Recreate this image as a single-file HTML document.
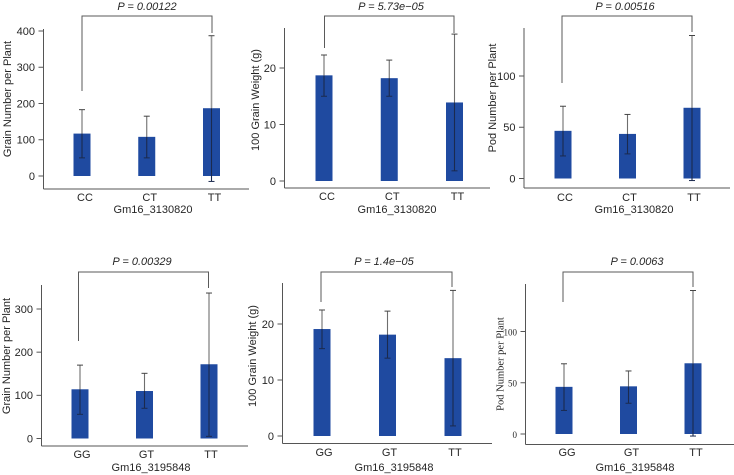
<!DOCTYPE html>
<html>
<head>
<meta charset="utf-8">
<title>Yield traits by genotype</title>
<style>
html,body{margin:0;padding:0;background:#fff;}
svg{display:block;font-family:"Liberation Sans",sans-serif;}
text{fill:#262626;font-size:11px;}
</style>
</head>
<body>
<svg id="figure" width="734" height="475" viewBox="0 0 734 475" xmlns="http://www.w3.org/2000/svg"></svg>
<script>
// Panel 1
const p1Categories = ['CC', 'CT', 'TT'];
const p1Means = [117, 108, 187];
const p1Upper = [183, 165, 387];
const p1Lower = [50, 50, -15];
const p1Ticks = [0, 100, 200, 300, 400];
// Panel 2
const p2Categories = ['CC', 'CT', 'TT'];
const p2Means = [18.7, 18.2, 13.9];
const p2Upper = [22.3, 21.4, 26];
const p2Lower = [15, 15, 1.8];
const p2Ticks = [0, 10, 20];
// Panel 3
const p3Categories = ['CC', 'CT', 'TT'];
const p3Means = [46.5, 43.5, 69];
const p3Upper = [70.5, 62.5, 139.5];
const p3Lower = [22, 24, -2];
const p3Ticks = [0, 50, 100];
// Panel 4
const p4Categories = ['GG', 'GT', 'TT'];
const p4Means = [114, 110, 172];
const p4Upper = [170, 151, 337];
const p4Lower = [56, 70, 5];
const p4Ticks = [0, 100, 200, 300];
// Panel 5
const p5Categories = ['GG', 'GT', 'TT'];
const p5Means = [19.1, 18.1, 13.9];
const p5Upper = [22.5, 22.3, 26];
const p5Lower = [15.6, 13.9, 1.8];
const p5Ticks = [0, 10, 20];
// Panel 6
const p6Categories = ['GG', 'GT', 'TT'];
const p6Means = [46, 46.5, 69];
const p6Upper = [68.5, 61.5, 140];
const p6Lower = [23, 30, -2];
const p6Ticks = [0, 50, 100];

const svgNS = 'http://www.w3.org/2000/svg';
const figure = document.getElementById('figure');

const panels = [
  {id:'grain-number-3130820', cats:p1Categories, means:p1Means, upper:p1Upper, lower:p1Lower, ticks:p1Ticks,
   yTitle:'Grain Number per Plant', xTitle:'Gm16_3130820', pText:'P = 0.00122',
   axisX:43.5, axisTop:29, axisBottom:189, axisRight:249, zeroY:176, refVal:400, refY:31,
   firstX:82, stepX:64.75, labelDx:3, labelY:201, xTitleX:153, xTitleY:213,
   yTitleX:8, yTitleY:99, pX:147, pY:10, brY:16, brLeft:82, brRight:212, brLeftEnd:91, brRightEnd:33, softTallError:true},
  {id:'grain-weight-3130820', cats:p2Categories, means:p2Means, upper:p2Upper, lower:p2Lower, ticks:p2Ticks,
   yTitle:'100 Grain Weight (g)', xTitle:'Gm16_3130820', pText:'P = 5.73e\u221205',
   axisX:284.5, axisTop:28, axisBottom:188, axisRight:490, zeroY:181, refVal:20, refY:68,
   firstX:324, stepX:65.25, labelDx:3, labelY:200, xTitleX:397, xTitleY:213,
   yTitleX:256, yTitleY:100, pX:391, pY:10, brY:16, brLeft:324.5, brRight:454, brLeftEnd:48, brRightEnd:33},
  {id:'pod-number-3130820', cats:p3Categories, means:p3Means, upper:p3Upper, lower:p3Lower, ticks:p3Ticks,
   yTitle:'Pod Number per Plant', xTitle:'Gm16_3130820', pText:'P = 0.00516',
   axisX:524, axisTop:28, axisBottom:188, axisRight:730, zeroY:178.5, refVal:100, refY:76,
   firstX:563, stepX:64.5, labelDx:2, labelY:201, xTitleX:634, xTitleY:213,
   yTitleX:493, yTitleY:98, pX:625, pY:10, brY:16, brLeft:562, brRight:692, brLeftEnd:83, brRightEnd:32},
  {id:'grain-number-3195848', cats:p4Categories, means:p4Means, upper:p4Upper, lower:p4Lower, ticks:p4Ticks,
   yTitle:'Grain Number per Plant', xTitle:'Gm16_3195848', pText:'P = 0.00329',
   axisX:41.5, axisTop:285, axisBottom:446, axisRight:248, zeroY:438.5, refVal:300, refY:309,
   firstX:80, stepX:64.5, labelDx:2, labelY:458, xTitleX:151, xTitleY:471,
   yTitleX:7, yTitleY:356, pX:142, pY:265, brY:272, brLeft:78.5, brRight:208.5, brLeftEnd:341, brRightEnd:288},
  {id:'grain-weight-3195848', cats:p5Categories, means:p5Means, upper:p5Upper, lower:p5Lower, ticks:p5Ticks,
   yTitle:'100 Grain Weight (g)', xTitle:'Gm16_3195848', pText:'P = 1.4e\u221205',
   axisX:282.5, axisTop:283, axisBottom:443.5, axisRight:492, zeroY:436, refVal:20, refY:324,
   firstX:322, stepX:65.5, labelDx:2, labelY:456, xTitleX:394, xTitleY:471,
   yTitleX:253, yTitleY:356, pX:384, pY:265, brY:272, brLeft:321, brRight:452, brLeftEnd:302, brRightEnd:287},
  {id:'pod-number-3195848', cats:p6Categories, means:p6Means, upper:p6Upper, lower:p6Lower, ticks:p6Ticks,
   yTitle:'Pod Number per Plant', xTitle:'Gm16_3195848', pText:'P = 0.0063',
   axisX:525.5, axisTop:284, axisBottom:444.5, axisRight:734, zeroY:434, refVal:100, refY:331.5,
   firstX:564, stepX:64.5, labelDx:3, labelY:456, xTitleX:635, xTitleY:471,
   yTitleX:501, yTitleY:364, pX:637, pY:265, brY:272, brLeft:563, brRight:693, brLeftEnd:302, brRightEnd:287, serifY:true, softTallError:true}
];

function make(tag, attrs, parent, content) {
  const node = document.createElementNS(svgNS, tag);
  for (const k in attrs) node.setAttribute(k, attrs[k]);
  if (content !== undefined) node.textContent = content;
  parent.appendChild(node);
  return node;
}

panels.forEach(function (p) {
  const yScale = function (v) { return p.zeroY - v * (p.zeroY - p.refY) / p.refVal; };
  const xScale = function (i) { return p.firstX + i * p.stepX; };
  const barWidth = 17;

  const g = make('g', {}, figure);
  
  

  // bars
  p.means.forEach(function (m, i) {
    const bar = make('rect', {x: xScale(i) - barWidth / 2, y: yScale(m), width: barWidth, height: yScale(0) - yScale(m), fill: '#1f4aa0'}, g);
    
    
  });

  // error bars
  p.cats.forEach(function (c, i) {
    const x = xScale(i);
    const top = yScale(p.upper[i]);
    const bot = yScale(p.lower[i]);
    const barTop = yScale(p.means[i]);
    const soft = p.softTallError && i === p.cats.length - 1;
    const eg = make('g', {}, g);
    
    
    make('line', {x1: x, x2: x, y1: top, y2: Math.min(barTop, bot), stroke: soft ? '#9a9a9a' : '#6e6e6e', 'stroke-width': soft ? 1.6 : 1.1}, eg);
    if (bot > barTop) {
      make('line', {x1: x, x2: x, y1: barTop, y2: bot, stroke: '#1b2a4e', 'stroke-width': 1.1}, eg);
    }
    make('line', {x1: x - 3, x2: x + 3, y1: top, y2: top, stroke: '#444', 'stroke-width': 1}, eg);
    make('line', {x1: x - 3, x2: x + 3, y1: bot, y2: bot, stroke: '#1b2a4e', 'stroke-width': 1}, eg);
  });

  // axes
  const yAxis = make('line', {x1: p.axisX, x2: p.axisX, y1: p.axisTop, y2: p.axisBottom, stroke: '#555', 'stroke-width': 1}, g);
  
  
  const xAxis = make('line', {x1: p.axisX, x2: p.axisRight, y1: p.axisBottom, y2: p.axisBottom, stroke: '#555', 'stroke-width': 1}, g);
  
  

  // y ticks
  p.ticks.forEach(function (t) {
    const y = yScale(t);
    const tick = make('line', {x1: p.axisX - 5, x2: p.axisX, y1: y, y2: y, stroke: '#555', 'stroke-width': 1}, g);
    
    
    const attrs = {x: p.axisX - 8.5, y: y + 3.8, 'text-anchor': 'end'};
    if (p.serifY) {
      attrs.style = 'font-family:"Liberation Serif",serif;font-size:9px';
    }
    const label = make('text', attrs, g, String(t));
    
    
  });

  // category labels
  p.cats.forEach(function (c, i) {
    const label = make('text', {x: xScale(i) + p.labelDx, y: p.labelY, 'text-anchor': 'middle'}, g, c);
    
    
  });

  // axis titles
  const xTitle = make('text', {x: p.xTitleX, y: p.xTitleY, 'text-anchor': 'middle'}, g, p.xTitle);
  
  
  const yAttrs = {x: 0, y: 0, 'text-anchor': 'middle', 'dominant-baseline': 'central', transform: 'translate(' + p.yTitleX + ',' + p.yTitleY + ') rotate(-90)'};
  if (p.serifY) {
    yAttrs.style = 'font-family:"Liberation Serif",serif;font-size:10.5px';
  }
  const yTitle = make('text', yAttrs, g, p.yTitle);
  
  

  // significance bracket
  const bracket = make('path', {d: 'M' + p.brLeft + ' ' + p.brLeftEnd + 'V' + p.brY + 'H' + p.brRight + 'V' + p.brRightEnd, fill: 'none', stroke: '#5a5a5a', 'stroke-width': 1}, g);
  
  
  const pLabel = make('text', {x: p.pX, y: p.pY, 'text-anchor': 'middle', 'font-style': 'italic'}, g, p.pText);
  
  
});
</script>
</body>
</html>
